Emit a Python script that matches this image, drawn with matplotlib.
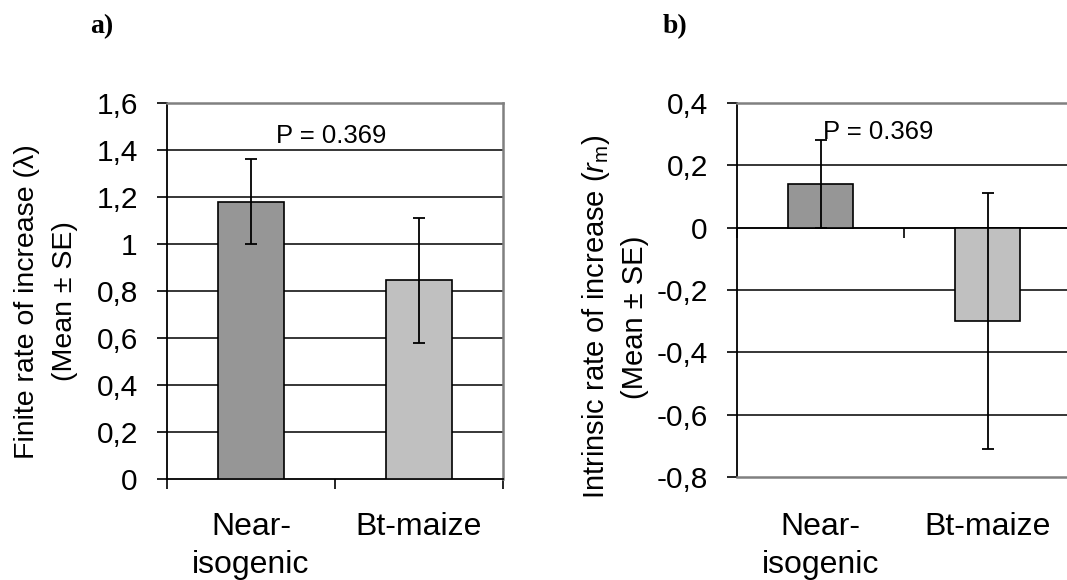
import matplotlib
matplotlib.use('Agg')
import matplotlib.pyplot as plt

# data
categories = ['Near-\nisogenic', 'Bt-maize']
bar_colours = ['#969696', '#c0c0c0']

finite_mean = [1.18, 0.845]
finite_se = [0.18, 0.267]
finite_yticks = [0, 0.2, 0.4, 0.6, 0.8, 1.0, 1.2, 1.4, 1.6]
finite_ylabels = ['0', '0,2', '0,4', '0,6', '0,8', '1', '1,2', '1,4', '1,6']

intrinsic_mean = [0.14, -0.30]
intrinsic_se = [0.14, 0.41]
intrinsic_yticks = [-0.8, -0.6, -0.4, -0.2, 0, 0.2, 0.4]
intrinsic_ylabels = ['-0,8', '-0,6', '-0,4', '-0,2', '0', '0,2', '0,4']

p_text = 'P = 0.369'

plt.rcParams['font.family'] = ['Liberation Sans', 'DejaVu Sans']
plt.rcParams['axes.unicode_minus'] = False
plt.rcParams['mathtext.fontset'] = 'custom'
plt.rcParams['mathtext.rm'] = 'Liberation Sans'
plt.rcParams['mathtext.it'] = 'Liberation Sans:italic'

W, H = 1067, 580
fig = plt.figure(figsize=(W / 100, H / 100), dpi=100)
BORDER = '#808080'


def px_axes(left, top, right, bottom):
    return fig.add_axes([left / W, 1 - bottom / H, (right - left) / W, (bottom - top) / H])


def draw_panel(ax, means, ses, yticks, ylabels):
    x = range(len(means))
    ax.bar(x, means, width=0.39, color=bar_colours, edgecolor='black', linewidth=1.2, zorder=3)
    ax.errorbar(x, means, yerr=ses, fmt='none', ecolor='black', elinewidth=1.3,
                capsize=4, capthick=1.3, zorder=4)
    ax.set_xlim(-0.5, len(means) - 0.5)
    ax.set_ylim(yticks[0], yticks[-1])
    ax.set_yticks(yticks)
    ax.set_yticklabels(ylabels)
    ax.tick_params(axis='y', length=7, width=1.2, pad=14, labelsize=21.5)
    ax.yaxis.grid(True, color='black', linewidth=1.1)
    ax.set_axisbelow(True)
    gl = ax.get_ygridlines()
    gl[0].set_visible(False)
    gl[-1].set_visible(False)

    # category labels sit on minor ticks, boundaries on major ticks
    ax.set_xticks([-0.5, 0.5, 1.5])
    ax.set_xticklabels(['', '', ''])
    ax.set_xticks([0, 1], minor=True)
    ax.set_xticklabels(categories, minor=True)
    for lbl in ax.get_xticklabels(minor=True):
        lbl.set_linespacing(1.33)
    ax.spines['left'].set_linewidth(1.3)
    for s in ('top', 'right'):
        ax.spines[s].set_color(BORDER)
        ax.spines[s].set_linewidth(1.8)


# ---- a) finite rate of increase
ax1 = px_axes(167, 103, 503, 479)
draw_panel(ax1, finite_mean, finite_se, finite_yticks, finite_ylabels)
ax1.tick_params(axis='x', which='major', length=7, width=1.2)
ax1.tick_params(axis='x', which='minor', length=0, pad=24, labelsize=23)
ax1.spines['bottom'].set_linewidth(1.3)
ax1.set_ylabel('Finite rate of increase (\u03bb)\n(Mean \u00b1 SE)', fontsize=20.5, linespacing=1.62)
ax1.yaxis.set_label_coords(-0.265, 0.473)
ax1.text(0.49, 0.894, p_text, transform=ax1.transAxes, ha='center', va='baseline', fontsize=18.5)

# ---- b) intrinsic rate of increase
ax2 = px_axes(737, 103, 1071, 477)
draw_panel(ax2, intrinsic_mean, intrinsic_se, intrinsic_yticks, intrinsic_ylabels)
ax2.tick_params(axis='x', which='major', length=0)
ax2.tick_params(axis='x', which='minor', length=0, pad=25.5, labelsize=23)
ax2.spines['bottom'].set_color(BORDER)
ax2.spines['bottom'].set_linewidth(1.8)
# category axis crosses at zero, ticks pointing down
zero_frac = (0 - intrinsic_yticks[0]) / (intrinsic_yticks[-1] - intrinsic_yticks[0])
sec = ax2.secondary_xaxis(zero_frac)
sec.set_alignment('bottom')
sec.set_xticks([-0.5, 0.5, 1.5])
sec.set_xticklabels(['', '', ''])
sec.tick_params(axis='x', length=7, width=1.2)
sec.spines['bottom'].set_linewidth(1.1)
ax2.set_ylabel('Intrinsic rate of increase ($\\mathit{r}_{\\mathrm{m}}$)\n(Mean \u00b1 SE)',
               fontsize=21, linespacing=1.38)
ax2.yaxis.set_label_coords(-0.264, 0.428)
ax2.text(0.257, 0.904, p_text, transform=ax2.transAxes, ha='left', va='baseline', fontsize=18.5)

fig.text(90 / W, 1 - 33 / H, 'a)', family='Liberation Serif', weight='bold', fontsize=20, va='baseline')
fig.text(663 / W, 1 - 33 / H, 'b)', family='Liberation Serif', weight='bold', fontsize=20, va='baseline')

fig.savefig('out.png', dpi=100)
